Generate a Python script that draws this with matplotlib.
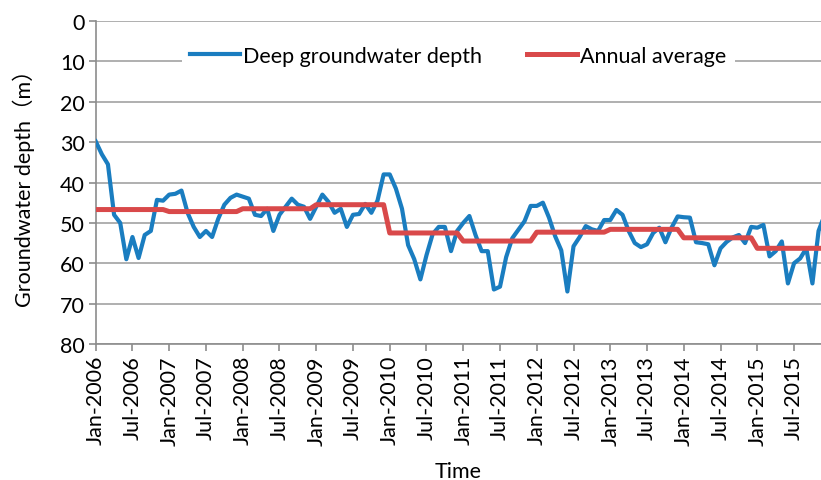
import numpy as np
import matplotlib
matplotlib.use('Agg')
import matplotlib.pyplot as plt

# monthly deep groundwater depth (m), Jan-2006 ... Dec-2015
depth = [29.8, 33, 35.5, 48, 50, 59, 53.5, 58.7, 53, 52, 44.3, 44.5,
         43, 42.8, 42, 47.5, 51, 53.5, 52, 53.5, 49, 45.5, 43.8, 43,
         43.5, 44, 48, 48.3, 46.5, 52, 48, 46, 44, 45.5, 46, 49,
         46, 43, 44.8, 47.5, 46.5, 51, 48, 47.8, 45.3, 47.5, 44.5, 38,
         38, 41.5, 46.5, 55.5, 59, 64, 58, 52.8, 51, 51, 57, 52,
         50, 48.3, 53, 57, 57, 66.5, 65.8, 58.5, 53.8, 51.7, 49.6, 45.8,
         45.8, 45, 48.7, 53.3, 56.8, 67, 55.8, 53.5, 50.8, 51.6, 52, 49.3,
         49.3, 46.8, 48, 52, 55, 56, 55.3, 52.5, 51.2, 54.8, 51.2, 48.4,
         48.6, 48.7, 54.8, 55, 55.3, 60.5, 56.3, 54.7, 53.6, 53, 55, 51,
         51.2, 50.5, 58.3, 57, 54.6, 65, 60, 58.8, 56.3, 65, 52, 48]

years = list(range(2006, 2016))
annual = [46.7, 47.2, 46.5, 45.5, 52.5, 54.5, 52.3, 51.6, 53.7, 56.3]

tick_labels = []
for y in years:
    tick_labels += ['Jan-%d' % y, 'Jul-%d' % y]

fonts = ['Lato', 'Noto Sans CJK SC', 'DejaVu Sans']
plt.rcParams['font.family'] = fonts
plt.rcParams['font.size'] = 15.5

x = np.arange(len(depth))
avg_line = np.repeat(annual, 12)

fig = plt.figure(figsize=(8.21, 4.81), dpi=100)
ax = fig.add_axes([95.7/821, 1-345/481, 1-95.7/821, (345-22)/481])

ax.plot(x, depth, color='#1a7dc0', lw=3.0, label='Deep groundwater depth',
        solid_joinstyle='round', zorder=3)
ax.plot(np.arange(len(avg_line)), avg_line, color='#d9494a', lw=3.6,
        label='Annual average', zorder=4)

ax.set_ylim(80, 0)
ax.set_yticks(range(0, 81, 10))
ax.set_xlim(0, 118.4)
ax.set_xticks(range(0, 120, 6))
ax.set_xticklabels(tick_labels, rotation=90)

ax.grid(axis='y', color='#9a9a9a', lw=1.1)
ax.set_axisbelow(True)
for s in ['top', 'right']:
    ax.spines[s].set_visible(False)
for s in ['left', 'bottom']:
    ax.spines[s].set_color('#8c8c8c')
    ax.spines[s].set_linewidth(1.2)
ax.tick_params(axis='both', color='#8c8c8c', length=5, width=1.2, pad=3)

ax.set_ylabel('Groundwater depth（m）', labelpad=18)
ax.set_xlabel('Time', labelpad=12)

leg = ax.legend(loc='upper center', bbox_to_anchor=(0.5, 1.0), ncol=2,
                frameon=True, framealpha=1, edgecolor='none',
                handlelength=2.3, handletextpad=0.15, columnspacing=2.1,
                borderaxespad=0.75)

fig.savefig('out.png', dpi=100)
